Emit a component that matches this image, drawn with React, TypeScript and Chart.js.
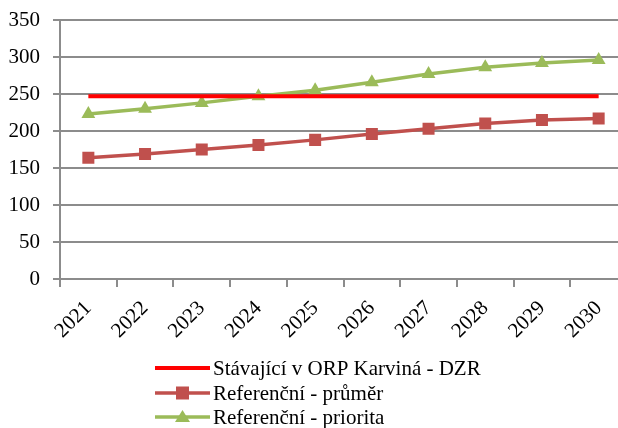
import React, { useEffect, useRef } from "react";
import { Chart, registerables } from "chart.js";

Chart.register(...registerables);

const categories = ["2021", "2022", "2023", "2024", "2025", "2026", "2027", "2028", "2029", "2030"];
const seriesNames = ["Stávající v ORP Karviná - DZR", "Referenční - průměr", "Referenční - priorita"];
const existingDZR = [247, 247, 247, 247, 247, 247, 247, 247, 247, 247];
const refAverage = [164, 169, 175, 181, 188, 196, 203, 210, 215, 217];
const refPriority = [223, 230, 238, 247, 255, 266, 277, 286, 292, 296];
const yTicks = [0, 50, 100, 150, 200, 250, 300, 350];

const FONT = "'Liberation Serif', 'Times New Roman', serif";
const GRID = "#8c8c8c";

const stackLegend = {
  id: "stackLegend",
  afterDraw(chart: any) {
    const ctx = chart.ctx;
    const x0 = 155;
    const sampleW = 55;
    const top = 368;
    const row = 24.5;
    ctx.save();
    chart.data.datasets.forEach((ds: any, i: number) => {
      const y = Math.round(top + i * row);
      ctx.strokeStyle = ds.borderColor;
      ctx.lineWidth = ds.borderWidth;
      ctx.beginPath();
      ctx.moveTo(x0, y);
      ctx.lineTo(x0 + sampleW, y);
      ctx.stroke();
      const cx = x0 + sampleW / 2;
      ctx.fillStyle = ds.pointBackgroundColor;
      if (ds.pointStyle === "rect" && ds.pointRadius > 0) {
        const s = 6.5;
        ctx.fillRect(cx - s, y - s, 2 * s, 2 * s);
      } else if (ds.pointStyle === "triangle" && ds.pointRadius > 0) {
        ctx.beginPath();
        ctx.moveTo(cx, y - 7);
        ctx.lineTo(cx + 7.5, y + 5);
        ctx.lineTo(cx - 7.5, y + 5);
        ctx.closePath();
        ctx.fill();
      }
      ctx.fillStyle = "#000";
      ctx.font = `21px ${FONT}`;
      ctx.textBaseline = "middle";
      ctx.textAlign = "left";
      ctx.fillText(ds.label, x0 + sampleW + 3, y + 1);
    });
    ctx.restore();
  },
};

export default function App() {
  const ref = useRef<HTMLCanvasElement>(null);
  useEffect(() => {
    if (!ref.current) return;
    const chart = new Chart(ref.current, {
      type: "line",
      data: {
        labels: categories,
        datasets: [
          {
            label: seriesNames[0],
            data: existingDZR,
            borderColor: "#FF0000",
            backgroundColor: "#FF0000",
            pointBackgroundColor: "#FF0000",
            borderWidth: 4,
            pointRadius: 0,
            pointStyle: false as any,
            tension: 0,
          },
          {
            label: seriesNames[1],
            data: refAverage,
            borderColor: "#C0504D",
            backgroundColor: "#C0504D",
            pointBackgroundColor: "#C0504D",
            pointBorderColor: "#C0504D",
            borderWidth: 3.5,
            pointStyle: "rect",
            pointRadius: 8.5,
            pointBorderWidth: 0,
            tension: 0,
          },
          {
            label: seriesNames[2],
            data: refPriority,
            borderColor: "#9BBB59",
            backgroundColor: "#9BBB59",
            pointBackgroundColor: "#9BBB59",
            pointBorderColor: "#9BBB59",
            borderWidth: 3.5,
            pointStyle: "triangle",
            pointRadius: 8,
            pointBorderWidth: 0,
            tension: 0,
          },
        ],
      },
      options: {
        responsive: false,
        animation: false,
        layout: { padding: { top: 20, left: 0, right: 13, bottom: 0 } },
        plugins: { legend: { display: false }, tooltip: { enabled: false }, title: { display: false } },
        scales: {
          x: {
            offset: true,
            grid: { display: true, drawOnChartArea: false, drawTicks: true, tickLength: 8, offset: true, color: GRID, lineWidth: 2 },
            border: { display: true, color: GRID, width: 2 },
            ticks: { color: "#000", font: { family: FONT, size: 21 }, minRotation: 45, maxRotation: 45, padding: 9 },
            afterFit(scale: any) {
              scale.height = 149;
              scale.paddingLeft = 0;
              scale.paddingRight = 0;
              scale.paddingTop = 0;
              scale.paddingBottom = 0;
            },
          },
          y: {
            min: 0,
            max: 350,
            afterBuildTicks(scale: any) {
              scale.ticks = yTicks.map((v) => ({ value: v }));
            },
            grid: { color: GRID, lineWidth: 2, drawTicks: true, tickLength: 7 },
            border: { display: true, color: GRID, width: 2 },
            ticks: { color: "#000", font: { family: FONT, size: 21 }, padding: 13 },
            afterFit(scale: any) {
              scale.width = 60;
              scale.paddingTop = 0;
              scale.paddingBottom = 0;
              scale.paddingLeft = 0;
              scale.paddingRight = 0;
            },
          },
        },
      },
      plugins: [stackLegend],
    });
    return () => chart.destroy();
  }, []);
  return (
    <div style={{ position: "fixed", top: 0, left: 0, width: 618, height: 428, overflow: "hidden", background: "#fff" }}>
      <canvas ref={ref} width={640} height={428} style={{ display: "block" }} />
    </div>
  );
}
